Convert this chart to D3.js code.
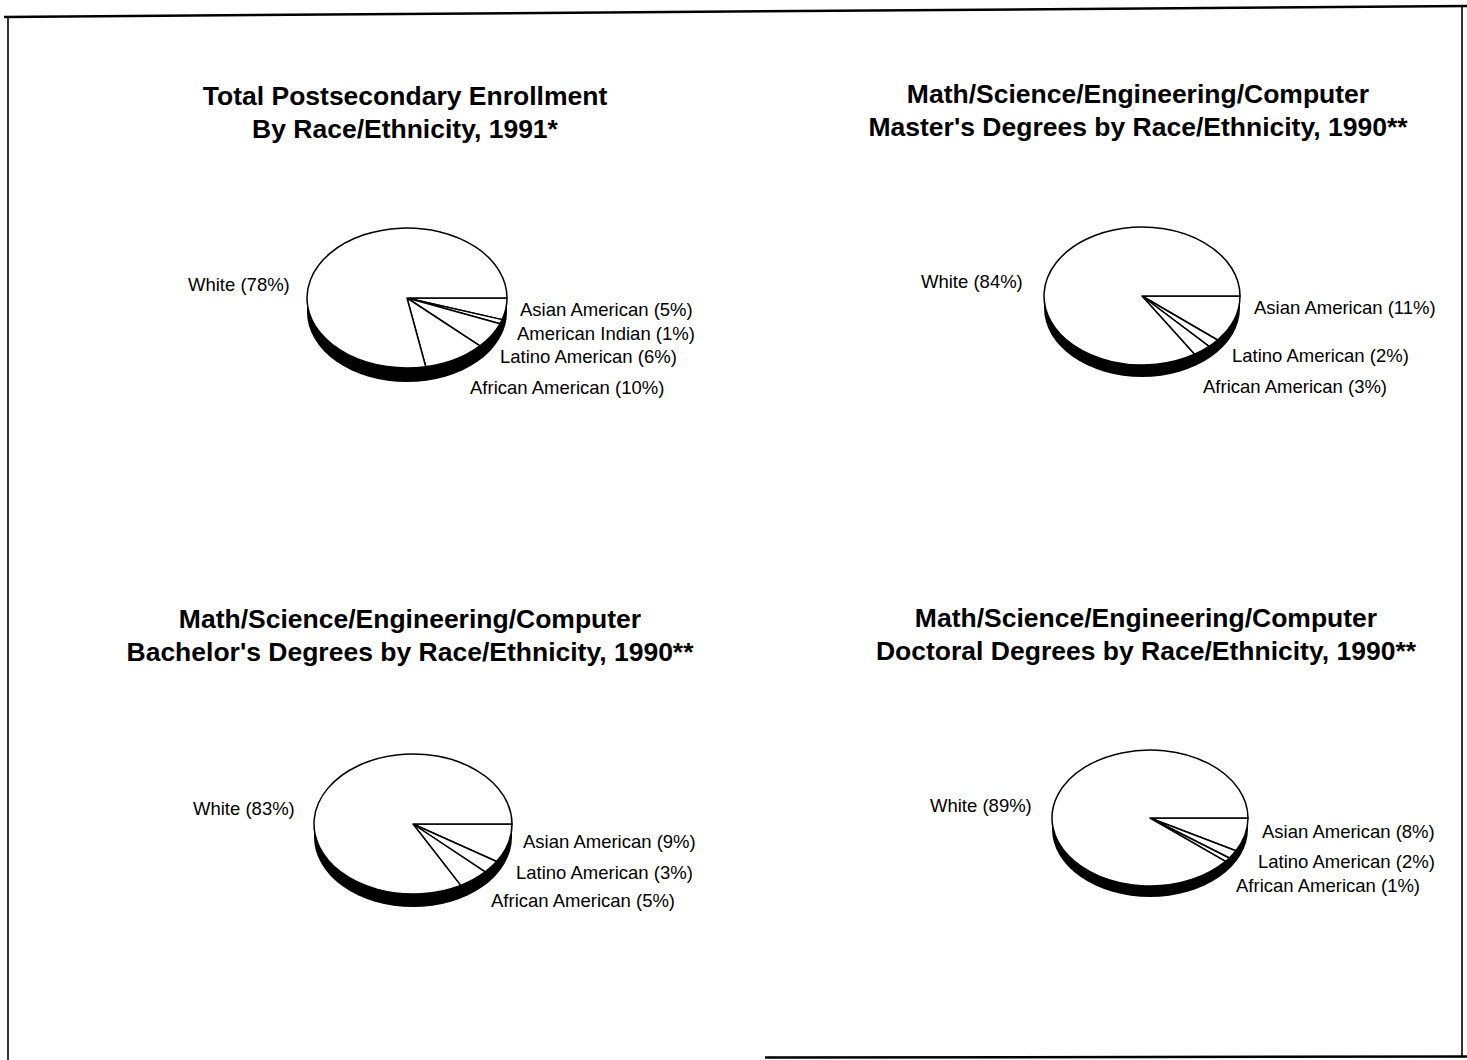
<!DOCTYPE html>
<html><head><meta charset="utf-8">
<script src="https://cdn.jsdelivr.net/npm/d3@7/dist/d3.min.js"></script>
<style>html,body{margin:0;padding:0;background:#fff;} svg{display:block;}</style>
</head><body>
<svg id="c" width="1467" height="1060"></svg>
<script>
// ---- data ----
const enrollTitle = ["Total Postsecondary Enrollment", "By Race/Ethnicity, 1991*"];
const enrollCategories = ["Asian American", "American Indian", "Latino American", "African American", "White"];
const enrollValues = [5, 1, 6, 10, 78];

const mastersTitle = ["Math/Science/Engineering/Computer", "Master's Degrees by Race/Ethnicity, 1990**"];
const mastersCategories = ["Asian American", "Latino American", "African American", "White"];
const mastersValues = [11, 2, 3, 84];

const bachelorsTitle = ["Math/Science/Engineering/Computer", "Bachelor's Degrees by Race/Ethnicity, 1990**"];
const bachelorsCategories = ["Asian American", "Latino American", "African American", "White"];
const bachelorsValues = [9, 3, 5, 83];

const doctoralTitle = ["Math/Science/Engineering/Computer", "Doctoral Degrees by Race/Ethnicity, 1990**"];
const doctoralCategories = ["Asian American", "Latino American", "African American", "White"];
const doctoralValues = [8, 2, 1, 89];

// ---- layout ----
const charts = [
  {title: enrollTitle, cats: enrollCategories, vals: enrollValues,
   tx: 405, ty: [105, 138], cx: 407, cy: 298, rx: 100, ry: 70, depth: 14,
   labels: [[520, 316], [517, 340], [500, 363], [470, 394], [188, 291]]},
  {title: mastersTitle, cats: mastersCategories, vals: mastersValues,
   tx: 1138, ty: [103, 136], cx: 1142, cy: 296, rx: 98, ry: 69, depth: 12,
   labels: [[1254, 314], [1232, 362], [1203, 393], [921, 288]]},
  {title: bachelorsTitle, cats: bachelorsCategories, vals: bachelorsValues,
   tx: 410, ty: [628, 661], cx: 413, cy: 824, rx: 99, ry: 70, depth: 13,
   labels: [[523, 848], [516, 879], [491, 907], [193, 815]]},
  {title: doctoralTitle, cats: doctoralCategories, vals: doctoralValues,
   tx: 1146, ty: [627, 660], cx: 1150, cy: 818, rx: 98, ry: 68, depth: 11,
   labels: [[1262, 838], [1258, 868], [1236, 892], [930, 812]]}
];

const svg = d3.select("#c");
svg.append("rect").attr("width", 1467).attr("height", 1060).attr("fill", "#fff");

// page frame (scanned border)
const frame = svg.append("g").attr("stroke", "#000").attr("fill", "none");
frame.append("line").attr("x1", 4).attr("y1", 17).attr("x2", 1467).attr("y2", 6).attr("stroke-width", 2.5);
frame.append("line").attr("x1", 8).attr("y1", 16).attr("x2", 8).attr("y2", 1060).attr("stroke-width", 1.6);
frame.append("line").attr("x1", 1462).attr("y1", 7).attr("x2", 1462).attr("y2", 1057).attr("stroke-width", 1.6);
frame.append("line").attr("x1", 765).attr("y1", 1057.5).attr("x2", 1467).attr("y2", 1056.5).attr("stroke-width", 2.5);

const font = "'Liberation Sans', Arial, Helvetica, sans-serif";

charts.forEach(ch => {
  const g = svg.append("g");
  // title
  g.selectAll("text.title").data(ch.title).join("text")
    .attr("class", "title")
    .attr("x", ch.tx).attr("y", (d, i) => ch.ty[i])
    .attr("text-anchor", "middle")
    .attr("font-family", font).attr("font-weight", "bold").attr("font-size", 26.5)
    .attr("fill", "#000").text(d => d);

  // rim (side of the 3D pie)
  g.append("ellipse").attr("cx", ch.cx).attr("cy", ch.cy + ch.depth)
    .attr("rx", ch.rx).attr("ry", ch.ry).attr("fill", "#000");
  g.append("rect").attr("x", ch.cx - ch.rx).attr("y", ch.cy)
    .attr("width", 2 * ch.rx).attr("height", ch.depth).attr("fill", "#000");

  // top face
  const pie = d3.pie().sort(null).value(d => d)
    .startAngle(Math.PI / 2).endAngle(Math.PI / 2 + 2 * Math.PI);
  const arc = d3.arc().innerRadius(0).outerRadius(ch.rx);
  const face = g.append("g")
    .attr("transform", `translate(${ch.cx},${ch.cy}) scale(1,${ch.ry / ch.rx})`);
  face.selectAll("path").data(pie(ch.vals)).join("path")
    .attr("d", arc)
    .attr("fill", "#fff").attr("stroke", "#000").attr("stroke-width", 1.5)
    .attr("stroke-linejoin", "round")
    .attr("vector-effect", "non-scaling-stroke");

  // labels
  g.selectAll("text.lbl").data(ch.cats).join("text")
    .attr("class", "lbl")
    .attr("x", (d, i) => ch.labels[i][0]).attr("y", (d, i) => ch.labels[i][1])
    .attr("font-family", font).attr("font-size", 18.5).attr("fill", "#000")
    .text((d, i) => `${d} (${ch.vals[i]}%)`);
});
</script>
</body></html>
